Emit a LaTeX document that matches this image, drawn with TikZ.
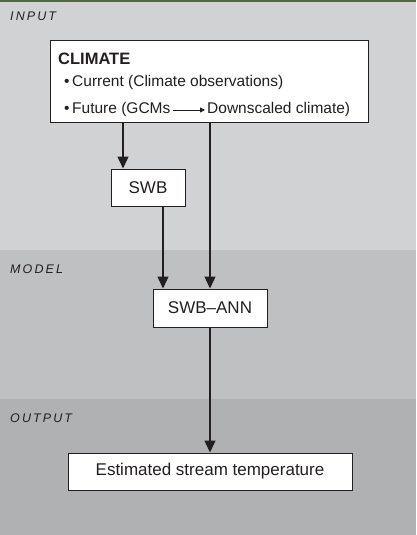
\documentclass[tikz,border=0pt]{standalone}
\usepackage{fontspec}
\setmainfont{Liberation Sans}
\usetikzlibrary{arrows.meta}
\definecolor{bandA}{HTML}{D1D2D4}
\definecolor{bandB}{HTML}{BFC0C2}
\definecolor{bandC}{HTML}{B0B1B3}
\definecolor{topline}{HTML}{4E6B3C}
\definecolor{ink}{HTML}{231F20}
\tikzset{
  box/.style={draw=ink, line width=1pt, fill=white, inner sep=0pt},
  band/.style={font=\fontsize{12.5}{14}\selectfont\itshape, anchor=base west, text=ink, inner sep=0pt},
  flow/.style={draw=ink, line width=1.3pt, -{Triangle[length=12pt,width=11pt]}},
  lbl/.style={font=\fontsize{17}{19}\selectfont, text=ink},
  blt/.style={font=\fontsize{15.5}{17}\selectfont, text=ink, anchor=base west, inner sep=0pt}
}
\begin{document}
\begin{tikzpicture}[x=1pt,y=-1pt]
\useasboundingbox (0,0) rectangle (416,535);
\fill[bandA] (0,0) rectangle (416,250);
\fill[bandB] (0,250) rectangle (416,399);
\fill[bandC] (0,399) rectangle (416,535);
\fill[topline] (0,0) rectangle (416,2);
\node[band] (tin) at (10,21) {I\,N\,P\,U\,T};
\node[band] (tmod) at (10,273) {M\,O\,D\,E\,L};
\node[band] (tout) at (10,422) {O\,U\,T\,P\,U\,T};
% climate box
\node[box, minimum width=318pt, minimum height=81pt] (clim) at (209,81.5) {};
\node[font=\fontsize{16.5}{18}\selectfont\bfseries, text=ink, anchor=base west, inner sep=0pt] (ct) at (58,64) {CLIMATE};
\node[blt] (c1) at (64,86) {\textbullet\,Current (Climate observations)};
\node[blt] (c2a) at (64,113) {\textbullet\,Future (GCMs};
\node[blt] (c2b) at (207,113) {Downscaled climate)};
\draw[draw=ink, line width=0.9pt, -{Triangle[length=5pt,width=5pt]}] ([xshift=2pt,yshift=-1pt]c2a.east) -- ([xshift=-2pt,yshift=-1pt]c2b.west |- c2a.east);
\node[box, minimum width=74pt, minimum height=37pt, lbl] (swb) at (148,187.5) {SWB};
\node[box, minimum width=114pt, minimum height=38pt, lbl] (ann) at (210,308) {SWB--ANN};
\node[box, minimum width=284pt, minimum height=37pt, lbl] (est) at (210,471.5) {Estimated stream temperature};
\coordinate (p1) at (123,122);
\coordinate (p2) at (210,122);
\coordinate (p3) at (163,206);
\draw[flow] (p1) -- (p1 |- swb.north);
\draw[flow] (p2) -- (p2 |- ann.north);
\draw[flow] (p3) -- (p3 |- ann.north);
\draw[flow] (ann.south) -- (est.north);
\end{tikzpicture}
\end{document}
